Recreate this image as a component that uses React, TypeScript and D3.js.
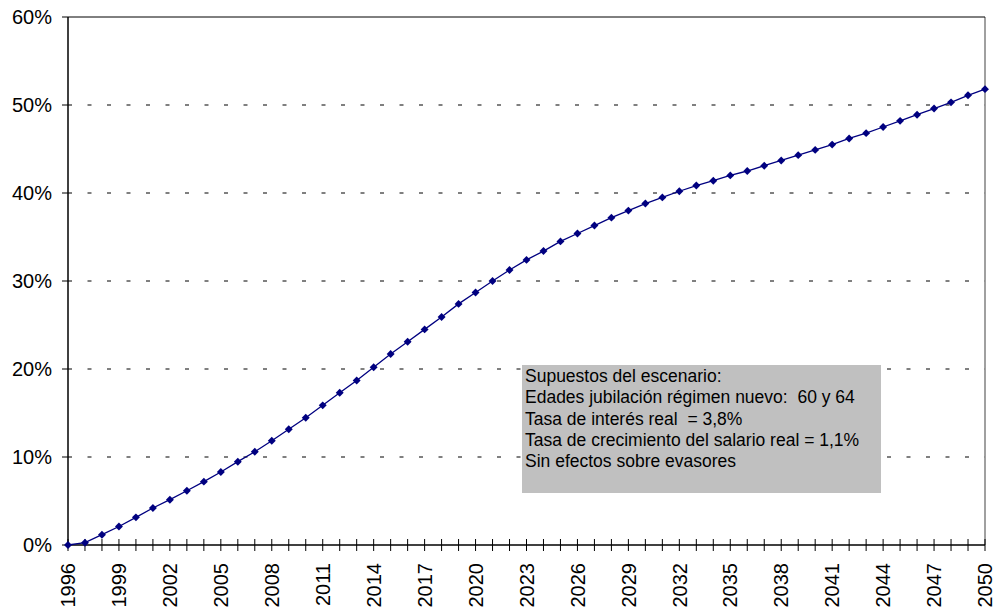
import { useEffect, useRef } from 'react';
import * as d3 from 'd3';

const years = d3.range(1996, 2051);
const shares = [
  0, 0.26, 1.17, 2.1, 3.14, 4.2, 5.15, 6.17, 7.2, 8.3,
  9.47, 10.6, 11.85, 13.15, 14.47, 15.87, 17.3, 18.7, 20.2, 21.7,
  23.1, 24.5, 25.9, 27.4, 28.7, 30.0, 31.25, 32.4, 33.4, 34.5,
  35.4, 36.3, 37.2, 38.0, 38.8, 39.5, 40.2, 40.85, 41.4, 42.0,
  42.5, 43.1, 43.7, 44.3, 44.9, 45.5, 46.2, 46.8, 47.5, 48.2,
  48.9, 49.6, 50.3, 51.1, 51.8,
];
const yTicks = [0, 10, 20, 30, 40, 50, 60];
const labelYears = years.filter((y) => (y - 1996) % 3 === 0);
const noteLines = [
  'Supuestos del escenario:',
  'Edades jubilación régimen nuevo:  60 y 64',
  'Tasa de interés real  = 3,8%',
  'Tasa de crecimiento del salario real = 1,1%',
  'Sin efectos sobre evasores',
];

const W = 998;
const H = 609;
const left = 68;
const right = 985;
const top = 17;
const bottom = 545;
const font = '"Liberation Sans", Arial, sans-serif';

const App = () => {
  const ref = useRef<SVGSVGElement>(null);

  useEffect(() => {
    const svg = d3.select(ref.current);
    svg.selectAll('*').remove();

    const x = d3.scaleLinear().domain([1996, 2050]).range([left, right]);
    const y = d3.scaleLinear().domain([0, 60]).range([bottom, top]);

    // gridlines
    svg
      .append('g')
      .selectAll('line')
      .data(yTicks.filter((t) => t > 0 && t < 60))
      .join('line')
      .attr('x1', left)
      .attr('x2', right)
      .attr('y1', (d) => y(d))
      .attr('y2', (d) => y(d))
      .attr('stroke', '#000')
      .attr('stroke-dasharray', '4,15.5');

    // plot border
    svg
      .append('line')
      .attr('x1', right)
      .attr('x2', right)
      .attr('y1', top)
      .attr('y2', bottom)
      .attr('stroke', '#808080')
      .attr('stroke-width', 1.5);
    svg
      .append('line')
      .attr('x1', left)
      .attr('x2', right)
      .attr('y1', y(60))
      .attr('y2', y(60))
      .attr('stroke', '#000');

    // note box
    const note = svg.append('g');
    note
      .append('rect')
      .attr('x', 522)
      .attr('y', 365)
      .attr('width', 359)
      .attr('height', 128)
      .attr('fill', '#c0c0c0');
    note
      .selectAll('text')
      .data(noteLines)
      .join('text')
      .attr('x', 525)
      .attr('y', (d, i) => 382 + i * 21.3)
      .attr('font-family', font)
      .attr('font-size', 17.5)
      .attr('fill', '#000')
      .style('white-space', 'pre')
      .text((d) => d);

    // y axis
    const yAxis = svg.append('g');
    yAxis
      .append('line')
      .attr('x1', left)
      .attr('x2', left)
      .attr('y1', top)
      .attr('y2', bottom)
      .attr('stroke', '#000')
      .attr('stroke-width', 1.5);
    yAxis
      .selectAll('line.tick')
      .data(yTicks)
      .join('line')
      .attr('class', 'tick')
      .attr('x1', left - 6)
      .attr('x2', left)
      .attr('y1', (d) => y(d))
      .attr('y2', (d) => y(d))
      .attr('stroke', '#000');
    yAxis
      .selectAll('text')
      .data(yTicks)
      .join('text')
      .attr('x', left - 16)
      .attr('y', (d) => y(d))
      .attr('dy', '0.36em')
      .attr('text-anchor', 'end')
      .attr('font-family', font)
      .attr('font-size', 20)
      .text((d) => `${d}%`);

    // x axis
    const xAxis = svg.append('g');
    xAxis
      .append('line')
      .attr('x1', left)
      .attr('x2', right)
      .attr('y1', bottom)
      .attr('y2', bottom)
      .attr('stroke', '#000')
      .attr('stroke-width', 1.5);
    xAxis
      .selectAll('line.tick')
      .data(years)
      .join('line')
      .attr('class', 'tick')
      .attr('x1', (d) => x(d))
      .attr('x2', (d) => x(d))
      .attr('y1', bottom - 6)
      .attr('y2', bottom + 6)
      .attr('stroke', '#000');
    xAxis
      .selectAll('text')
      .data(labelYears)
      .join('text')
      .attr('transform', (d) => `translate(${x(d)},${bottom + 18}) rotate(-90)`)
      .attr('dy', '0.36em')
      .attr('text-anchor', 'end')
      .attr('font-family', font)
      .attr('font-size', 20)
      .text((d) => String(d));

    // series
    const line = d3
      .line<number>()
      .x((d, i) => x(years[i]))
      .y((d) => y(d));
    svg
      .append('path')
      .datum(shares)
      .attr('d', line)
      .attr('fill', 'none')
      .attr('stroke', '#000080')
      .attr('stroke-width', 1.3);

    const diamond = d3.symbol().type(d3.symbolDiamond2).size(40);
    svg
      .append('g')
      .selectAll('path')
      .data(shares)
      .join('path')
      .attr('d', diamond)
      .attr('transform', (d, i) => `translate(${x(years[i])},${y(d)})`)
      .attr('fill', '#000080');
  }, []);

  return (
    <svg
      ref={ref}
      width={W}
      height={H}
      style={{ position: 'absolute', left: 0, top: 0, background: '#fff' }}
    />
  );
};

export default App;
